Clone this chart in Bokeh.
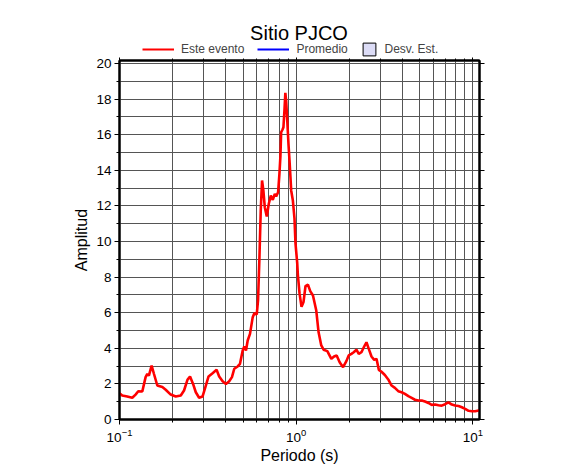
from bokeh.plotting import figure
from bokeh.models import (Range1d, FixedTicker, SingleIntervalTicker, LinearAxis, LogAxis,
                          Legend, LegendItem, Label, CustomJSTickFormatter)
from bokeh.layouts import column
from bokeh.embed import file_html
from bokeh.resources import INLINE

titulo = "Sitio PJCO"
etiqueta_x = "Periodo (s)"
etiqueta_y = "Amplitud"
leyenda = ["Este evento", "Promedio", "Desv. Est."]

periodo = [
    0.100, 0.1036, 0.1106, 0.1181, 0.1233, 0.1277, 0.1346, 0.1405, 0.1437, 0.1467,
    0.1520, 0.1566, 0.1637, 0.1748, 0.1826, 0.1949, 0.2081, 0.2222, 0.2319, 0.2424,
    0.2507, 0.2608, 0.2703, 0.2822, 0.2950, 0.3080, 0.3192, 0.3363, 0.3543, 0.3666,
    0.3833, 0.4002, 0.4178, 0.4329, 0.4462, 0.4665, 0.4808, 0.4979, 0.5084, 0.5198,
    0.5315, 0.5477, 0.5675, 0.5795, 0.5980, 0.6082, 0.6187, 0.6301, 0.6409, 0.6520,
    0.6641, 0.6816, 0.6997, 0.7183, 0.7373, 0.7568, 0.7698, 0.7901, 0.8037, 0.8143,
    0.8219, 0.8360, 0.8468, 0.8580, 0.8682, 0.8774, 0.8890, 0.9042, 0.9160, 0.9281,
    0.9367, 0.9577, 0.9779, 0.9908, 1.0132, 1.0225, 1.0442, 1.0718, 1.1001, 1.1292,
    1.1655, 1.2010, 1.2443, 1.2990, 1.3389, 1.3868, 1.4292, 1.5001, 1.5811, 1.6379,
    1.6943, 1.7620, 1.8421, 1.9232, 1.9822, 2.0535, 2.1164, 2.1928, 2.2594, 2.3405,
    2.4249, 2.4988, 2.5752, 2.6676, 2.7637, 2.8480, 2.9353, 3.0407, 3.1750, 3.3189,
    3.4656, 3.6184, 3.7826, 3.9497, 4.1242, 4.3123, 4.5023, 4.7012, 4.9148, 5.1314,
    5.3580, 5.6015, 5.8479, 6.1064, 6.3840, 6.6661, 6.9599, 7.2763, 7.5976, 7.9328,
    8.2947, 8.6596, 9.0420, 9.4534, 9.8700, 10.306, 10.775, 11.10,
]
amplitud = [
    1.48, 1.35, 1.29, 1.22, 1.40, 1.59, 1.57, 2.38, 2.57, 2.47,
    3.03, 2.57, 1.91, 1.82, 1.67, 1.40, 1.29, 1.35, 1.63, 2.23,
    2.42, 2.00, 1.53, 1.22, 1.29, 1.91, 2.42, 2.60, 2.79, 2.42,
    2.15, 2.00, 2.15, 2.38, 2.85, 2.98, 3.13, 3.88, 4.10, 3.88,
    4.44, 4.81, 5.75, 5.97, 5.90, 6.69, 8.93, 11.74, 13.43, 12.87,
    11.93, 11.40, 12.12, 12.58, 12.34, 12.68, 12.53, 12.77, 13.80, 14.80,
    16.14, 16.28, 16.42, 17.36, 18.35, 17.92, 16.90, 15.49, 14.60, 13.60,
    12.87, 12.30, 11.30, 9.90, 8.80, 8.10, 7.10, 6.33, 6.60, 7.50,
    7.58, 7.21, 6.97, 6.12, 4.90, 4.16, 3.92, 3.84, 3.41, 3.54,
    3.60, 3.22, 2.94, 3.28, 3.60, 3.69, 3.78, 3.92, 3.69, 3.78,
    4.10, 4.34, 3.97, 3.54, 3.35, 3.41, 2.79, 2.68, 2.50, 2.25,
    1.91, 1.78, 1.59, 1.53, 1.44, 1.31, 1.21, 1.11, 1.07, 1.07,
    1.01, 0.93, 0.82, 0.84, 0.80, 0.78, 0.86, 0.96, 0.84, 0.79,
    0.76, 0.69, 0.60, 0.49, 0.46, 0.46, 0.51, 0.53,
]

x_ticks = [0.1, 1, 10]
x_minor = [0.2, 0.3, 0.4, 0.5, 0.6, 0.7, 0.8, 0.9, 2, 3, 4, 5, 6, 7, 8, 9]

FONT = "Liberation Sans"
GRID = "#555555"
LEFT = 119
FW = 360
RIGHT = 99
HEAD_H = 57

x_range = Range1d(0.1, 10.9)

# ---------- header: title and legend ----------
head = figure(frame_width=FW, frame_height=HEAD_H, x_range=Range1d(0, FW),
              y_range=Range1d(0, HEAD_H), output_backend="svg", toolbar_location=None,
              x_axis_location=None, y_axis_location=None,
              min_border=0, min_border_left=LEFT, min_border_right=RIGHT,
              min_border_top=0, min_border_bottom=0,
              background_fill_color="white", border_fill_color="white")
head.outline_line_color = None
head.grid.visible = False

# legend swatch renderers (their data lies outside the visible range)
rojo_l = head.line(x=[-50, -40], y=[-10, -10], line_color="#ff0000", line_width=2)
azul_l = head.line(x=[-50, -40], y=[-10, -10], line_color="#0000ff", line_width=2)
caja_l = head.quad(left=[-50], right=[-40], top=[-5], bottom=[-10], fill_color="#dcdcf6",
                   line_color="black", line_width=1)

leg1 = Legend(items=[LegendItem(label=leyenda[0], renderers=[rojo_l]),
                     LegendItem(label=leyenda[1], renderers=[azul_l])],
              orientation="horizontal", location=(23, 1.5),
              glyph_width=32, glyph_height=14, label_height=14, label_width=10,
              label_standoff=7, spacing=13, padding=0, margin=0,
              border_line_color=None, background_fill_color=None,
              label_text_font=FONT, label_text_font_size="12px")
leg2 = Legend(items=[LegendItem(label=leyenda[2], renderers=[caja_l])],
              orientation="horizontal", location=(241.5, 0.5),
              glyph_width=16, glyph_height=16, label_height=16, label_width=10,
              label_standoff=8, spacing=0, padding=0, margin=0,
              border_line_color=None, background_fill_color=None,
              label_text_font=FONT, label_text_font_size="12px")
head.add_layout(leg1)
head.add_layout(leg2)
head.add_layout(Label(x=179.5, y=25, x_units="screen", y_units="screen", text=titulo,
                      text_align="center", text_baseline="alphabetic",
                      text_font=FONT, text_font_size="20px", text_color="black"))

# ---------- main plot ----------
p = figure(frame_width=FW, frame_height=359, x_axis_type="log",
           x_range=x_range, y_range=Range1d(0, 20.17),
           output_backend="svg", toolbar_location=None,
           min_border=0, min_border_left=LEFT, min_border_right=RIGHT,
           min_border_top=3, min_border_bottom=48,
           background_fill_color="white", border_fill_color="white")
p.outline_line_color = "black"
p.outline_line_width = 2

xb = p.xaxis[0]
yl = p.yaxis[0]

xt = FixedTicker(ticks=x_ticks, minor_ticks=x_minor)
yt = SingleIntervalTicker(interval=2, num_minor_ticks=2)
xb.ticker = xt
yl.ticker = yt
p.xgrid[0].ticker = xt
p.ygrid[0].ticker = yt
for g in (p.xgrid[0], p.ygrid[0]):
    g.grid_line_color = GRID
    g.grid_line_width = 1
    g.minor_grid_line_color = GRID
    g.minor_grid_line_width = 1

top_axis = LogAxis(ticker=xt, formatter=CustomJSTickFormatter(code="return ''"))
right_axis = LinearAxis(ticker=yt, formatter=CustomJSTickFormatter(code="return ''"))
p.add_layout(top_axis, "above")
p.add_layout(right_axis, "right")

for ax in [xb, yl, top_axis, right_axis]:
    ax.axis_line_color = "black"
    ax.axis_line_width = 2
    ax.major_tick_line_color = "black"
    ax.minor_tick_line_color = "black"
    ax.major_tick_line_width = 1
    ax.minor_tick_line_width = 1
    ax.major_tick_out = 5
    ax.major_tick_in = 0
    ax.minor_tick_out = 3
    ax.minor_tick_in = 0
    ax.major_label_text_font = FONT
    ax.major_label_text_font_size = "13.5px"
    ax.major_label_text_color = "black"
    ax.major_label_standoff = 4
    ax.axis_label_text_font = FONT
    ax.axis_label_text_font_size = "16px"
    ax.axis_label_text_font_style = "normal"
    ax.axis_label_text_color = "black"

top_axis.major_tick_out = 3
top_axis.minor_tick_out = 2
top_axis.major_label_standoff = 0
top_axis.major_label_text_font_size = "0px"

xb.axis_label = etiqueta_x
xb.axis_label_standoff = 2
yl.axis_label = etiqueta_y
yl.axis_label_standoff = 3
yl.major_label_standoff = 3

p.line(periodo, amplitud, line_color="#ff0000", line_width=2.6)

layout = column(head, p, spacing=0)
open("out.html", "w").write(file_html(layout, INLINE))
